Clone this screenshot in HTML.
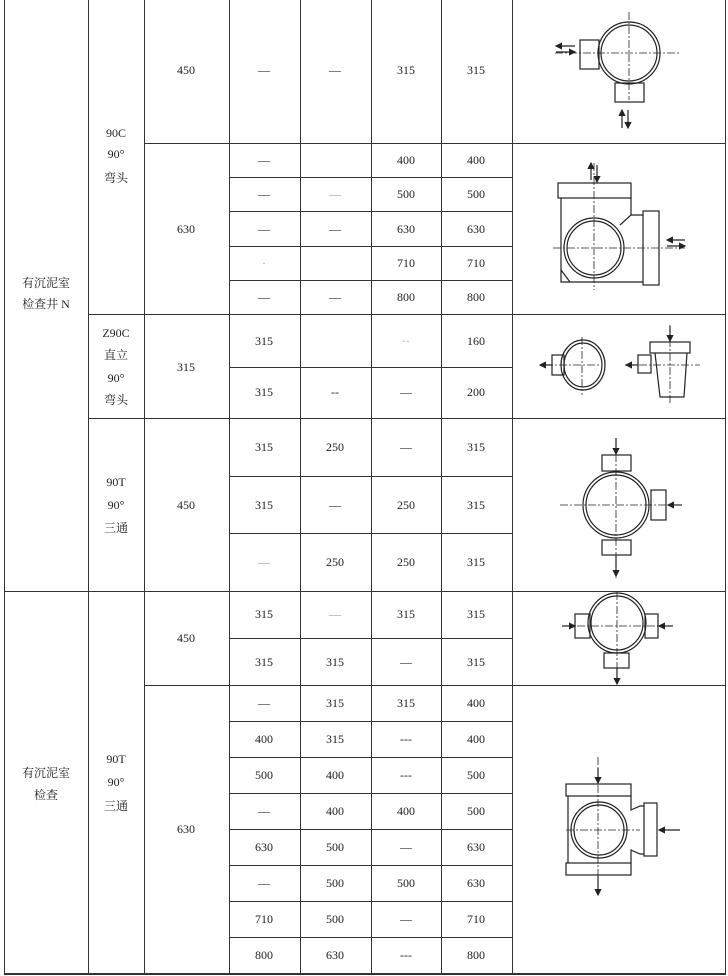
<!DOCTYPE html>
<html><head><meta charset="utf-8">
<style>
body{margin:0;background:#fff;width:728px;height:976px;position:relative;overflow:hidden;font-family:"Liberation Serif","Noto Serif CJK SC",serif;color:#222;}
.h{position:absolute;height:1px;background:#333;}
.v{position:absolute;width:1px;background:#333;}
.t{position:absolute;font-size:12px;line-height:14px;text-align:center;transform:translate(-50%,-50%);white-space:nowrap;}
.c{font-family:"Liberation Serif","Noto Serif CJK SC",serif;}
.g{color:#999;}
svg{position:absolute;left:0;top:0;}
</style></head><body>
<!-- vertical lines -->
<div class="v" style="left:4px;top:0;height:974px"></div>
<div class="v" style="left:88px;top:0;height:974px"></div>
<div class="v" style="left:144px;top:0;height:974px"></div>
<div class="v" style="left:229px;top:0;height:974px"></div>
<div class="v" style="left:300px;top:0;height:974px"></div>
<div class="v" style="left:371px;top:0;height:974px"></div>
<div class="v" style="left:441px;top:0;height:974px"></div>
<div class="v" style="left:512px;top:0;height:974px"></div>
<div class="v" style="left:725px;top:0;height:974px"></div>
<!-- horizontal lines -->
<div class="h" style="left:144px;width:582px;top:143px"></div>
<div class="h" style="left:229px;width:283px;top:177px"></div>
<div class="h" style="left:229px;width:283px;top:211px"></div>
<div class="h" style="left:229px;width:283px;top:246px"></div>
<div class="h" style="left:229px;width:283px;top:280px"></div>
<div class="h" style="left:88px;width:638px;top:314px"></div>
<div class="h" style="left:229px;width:283px;top:367px"></div>
<div class="h" style="left:88px;width:638px;top:418px"></div>
<div class="h" style="left:229px;width:283px;top:476px"></div>
<div class="h" style="left:229px;width:283px;top:533px"></div>
<div class="h" style="left:4px;width:722px;top:591px"></div>
<div class="h" style="left:229px;width:283px;top:638px"></div>
<div class="h" style="left:144px;width:582px;top:685px"></div>
<div class="h" style="left:229px;width:283px;top:721px"></div>
<div class="h" style="left:229px;width:283px;top:757px"></div>
<div class="h" style="left:229px;width:283px;top:793px"></div>
<div class="h" style="left:229px;width:283px;top:829px"></div>
<div class="h" style="left:229px;width:283px;top:865px"></div>
<div class="h" style="left:229px;width:283px;top:901px"></div>
<div class="h" style="left:229px;width:283px;top:937px"></div>
<div class="h" style="left:4px;width:722px;top:973px;height:2px"></div>

<!-- col0 -->
<div class="t c" style="left:46px;top:283px">有沉泥室</div>
<div class="t c" style="left:46px;top:304px">检查井 N</div>
<div class="t c" style="left:46px;top:773px">有沉泥室</div>
<div class="t c" style="left:46px;top:795px">检查</div>
<!-- col1 -->
<div class="t" style="left:116px;top:133px">90C</div>
<div class="t" style="left:116px;top:154px">90°</div>
<div class="t c" style="left:116px;top:178px">弯头</div>
<div class="t" style="left:116px;top:333px">Z90C</div>
<div class="t c" style="left:116px;top:355px">直立</div>
<div class="t" style="left:116px;top:378px">90°</div>
<div class="t c" style="left:116px;top:400px">弯头</div>
<div class="t" style="left:116px;top:482px">90T</div>
<div class="t" style="left:116px;top:505px">90°</div>
<div class="t c" style="left:116px;top:528px">三通</div>
<div class="t" style="left:116px;top:759px">90T</div>
<div class="t" style="left:116px;top:782px">90°</div>
<div class="t c" style="left:116px;top:806px">三通</div>
<!-- col2 -->
<div class="t" style="left:186px;top:70px">450</div>
<div class="t" style="left:186px;top:229px">630</div>
<div class="t" style="left:186px;top:367px">315</div>
<div class="t" style="left:186px;top:505px">450</div>
<div class="t" style="left:186px;top:638px">450</div>
<div class="t" style="left:186px;top:829px">630</div>

<!-- data: centers x 264,335,406,476 -->
<div class="t" style="left:264px;top:70px">—</div><div class="t" style="left:335px;top:70px">—</div><div class="t" style="left:406px;top:70px">315</div><div class="t" style="left:476px;top:70px">315</div>
<div class="t" style="left:264px;top:160px">—</div><div class="t" style="left:406px;top:160px">400</div><div class="t" style="left:476px;top:160px">400</div>
<div class="t" style="left:264px;top:194px">—</div><div class="t g" style="left:335px;top:194px">—</div><div class="t" style="left:406px;top:194px">500</div><div class="t" style="left:476px;top:194px">500</div>
<div class="t" style="left:264px;top:229px">—</div><div class="t" style="left:335px;top:229px">—</div><div class="t" style="left:406px;top:229px">630</div><div class="t" style="left:476px;top:229px">630</div>
<div class="t g" style="left:264px;top:263px">·</div><div class="t" style="left:406px;top:263px">710</div><div class="t" style="left:476px;top:263px">710</div>
<div class="t" style="left:264px;top:297px">—</div><div class="t" style="left:335px;top:297px">—</div><div class="t" style="left:406px;top:297px">800</div><div class="t" style="left:476px;top:297px">800</div>
<div class="t" style="left:264px;top:341px">315</div><div class="t g" style="left:406px;top:341px">··</div><div class="t" style="left:476px;top:341px">160</div>
<div class="t" style="left:264px;top:392px">315</div><div class="t" style="left:335px;top:392px">--</div><div class="t" style="left:406px;top:392px">—</div><div class="t" style="left:476px;top:392px">200</div>
<div class="t" style="left:264px;top:447px">315</div><div class="t" style="left:335px;top:447px">250</div><div class="t" style="left:406px;top:447px">—</div><div class="t" style="left:476px;top:447px">315</div>
<div class="t" style="left:264px;top:505px">315</div><div class="t" style="left:335px;top:505px">—</div><div class="t" style="left:406px;top:505px">250</div><div class="t" style="left:476px;top:505px">315</div>
<div class="t g" style="left:264px;top:562px">—</div><div class="t" style="left:335px;top:562px">250</div><div class="t" style="left:406px;top:562px">250</div><div class="t" style="left:476px;top:562px">315</div>
<div class="t" style="left:264px;top:614px">315</div><div class="t g" style="left:335px;top:614px">—</div><div class="t" style="left:406px;top:614px">315</div><div class="t" style="left:476px;top:614px">315</div>
<div class="t" style="left:264px;top:662px">315</div><div class="t" style="left:335px;top:662px">315</div><div class="t" style="left:406px;top:662px">—</div><div class="t" style="left:476px;top:662px">315</div>
<div class="t" style="left:264px;top:703px">—</div><div class="t" style="left:335px;top:703px">315</div><div class="t" style="left:406px;top:703px">315</div><div class="t" style="left:476px;top:703px">400</div>
<div class="t" style="left:264px;top:739px">400</div><div class="t" style="left:335px;top:739px">315</div><div class="t" style="left:406px;top:739px">---</div><div class="t" style="left:476px;top:739px">400</div>
<div class="t" style="left:264px;top:775px">500</div><div class="t" style="left:335px;top:775px">400</div><div class="t" style="left:406px;top:775px">---</div><div class="t" style="left:476px;top:775px">500</div>
<div class="t" style="left:264px;top:811px">—</div><div class="t" style="left:335px;top:811px">400</div><div class="t" style="left:406px;top:811px">400</div><div class="t" style="left:476px;top:811px">500</div>
<div class="t" style="left:264px;top:847px">630</div><div class="t" style="left:335px;top:847px">500</div><div class="t" style="left:406px;top:847px">—</div><div class="t" style="left:476px;top:847px">630</div>
<div class="t" style="left:264px;top:883px">—</div><div class="t" style="left:335px;top:883px">500</div><div class="t" style="left:406px;top:883px">500</div><div class="t" style="left:476px;top:883px">630</div>
<div class="t" style="left:264px;top:919px">710</div><div class="t" style="left:335px;top:919px">500</div><div class="t" style="left:406px;top:919px">—</div><div class="t" style="left:476px;top:919px">710</div>
<div class="t" style="left:264px;top:955px">800</div><div class="t" style="left:335px;top:955px">630</div><div class="t" style="left:406px;top:955px">---</div><div class="t" style="left:476px;top:955px">800</div>

<svg width="728" height="976" viewBox="0 0 728 976" fill="none" stroke="#222" stroke-width="1.2">
<defs><marker id="a" markerWidth="6" markerHeight="6" refX="5" refY="3" orient="auto"><path d="M0,0L6,3L0,6z" fill="#222" stroke="none"/></marker></defs>
<g stroke-dasharray="8,2,2,2" stroke-width="0.8">
<line x1="555" y1="53" x2="680" y2="53"/><line x1="629" y1="12" x2="629" y2="100"/>
<line x1="553" y1="248" x2="685" y2="248"/><line x1="594" y1="163" x2="594" y2="290"/>
<line x1="545" y1="365" x2="600" y2="365"/><line x1="582" y1="337" x2="582" y2="395"/>
<line x1="625" y1="365" x2="700" y2="365"/><line x1="670" y1="325" x2="670" y2="405"/>
<line x1="560" y1="505" x2="680" y2="505"/><line x1="616" y1="440" x2="616" y2="580"/>
<line x1="563" y1="626" x2="673" y2="626"/><line x1="617" y1="592" x2="617" y2="668"/>
<line x1="598" y1="757" x2="598" y2="895"/><line x1="566" y1="830" x2="640" y2="830"/>
</g>
<!-- D1 -->
<ellipse cx="629" cy="53" rx="31" ry="31"/><ellipse cx="629" cy="53" rx="28" ry="28"/>
<rect x="580" y="40" width="19" height="29"/><rect x="615" y="83" width="29" height="19"/>
<line x1="575" y1="46" x2="556" y2="46" marker-end="url(#a)"/><line x1="556" y1="52" x2="575" y2="52" marker-end="url(#a)"/>
<line x1="622" y1="128" x2="622" y2="110" marker-end="url(#a)"/><line x1="628" y1="110" x2="628" y2="128" marker-end="url(#a)"/>
<!-- D2 -->
<rect x="558" y="183" width="73" height="15"/>
<path d="M561,198 V282 H643 M561,270 L570,282 M631,198 V215 L620,225 M631,215 H643"/>
<rect x="643" y="211" width="16" height="74"/>
<ellipse cx="594" cy="248" rx="30" ry="30"/><ellipse cx="594" cy="248" rx="27" ry="27"/>
<line x1="591" y1="180" x2="591" y2="163" marker-end="url(#a)"/><line x1="597" y1="165" x2="597" y2="182" marker-end="url(#a)"/>
<line x1="685" y1="240" x2="667" y2="240" marker-end="url(#a)"/><line x1="667" y1="246" x2="685" y2="246" marker-end="url(#a)"/>
<!-- D3 -->
<ellipse cx="583" cy="365" rx="22" ry="25"/><ellipse cx="583" cy="365" rx="19" ry="22"/>
<rect x="552" y="355" width="12" height="20"/>
<line x1="552" y1="365" x2="540" y2="365" marker-end="url(#a)"/>
<rect x="650" y="342" width="40" height="11"/>
<path d="M655,353 L660,397 H684 L687,353"/>
<rect x="638" y="355" width="13" height="18"/>
<line x1="638" y1="365" x2="626" y2="365" marker-end="url(#a)"/>
<line x1="670" y1="326" x2="670" y2="341" marker-end="url(#a)"/>
<!-- D4 -->
<ellipse cx="616" cy="505" rx="33" ry="33"/><ellipse cx="616" cy="505" rx="30" ry="30"/>
<rect x="602" y="455" width="29" height="16"/><rect x="602" y="540" width="29" height="15"/>
<rect x="651" y="490" width="15" height="30"/>
<line x1="616" y1="438" x2="616" y2="454" marker-end="url(#a)"/>
<line x1="616" y1="556" x2="616" y2="576" marker-end="url(#a)"/>
<line x1="682" y1="505" x2="668" y2="505" marker-end="url(#a)"/>
<!-- D5 -->
<ellipse cx="617" cy="623" rx="29" ry="30"/><ellipse cx="617" cy="623" rx="26" ry="27"/>
<rect x="575" y="614" width="15" height="24"/><rect x="645" y="614" width="13" height="24"/>
<rect x="604" y="653" width="25" height="15"/>
<line x1="562" y1="626" x2="575" y2="626" marker-end="url(#a)"/>
<line x1="673" y1="626" x2="659" y2="626" marker-end="url(#a)"/>
<line x1="617" y1="668" x2="617" y2="684" marker-end="url(#a)"/>
<!-- D6 -->
<rect x="566" y="784" width="65" height="12"/>
<rect x="566" y="863" width="65" height="12"/>
<path d="M568,796 V863 M631,796 V810 L640,806 H644 M631,863 V850 L640,854 H644"/>
<rect x="644" y="803" width="13" height="53"/>
<ellipse cx="599" cy="830" rx="28" ry="28"/><ellipse cx="599" cy="830" rx="25" ry="25"/>
<line x1="598" y1="768" x2="598" y2="783" marker-end="url(#a)"/>
<line x1="598" y1="876" x2="598" y2="895" marker-end="url(#a)"/>
<line x1="680" y1="830" x2="659" y2="830" marker-end="url(#a)"/>
</svg>
</body></html>
